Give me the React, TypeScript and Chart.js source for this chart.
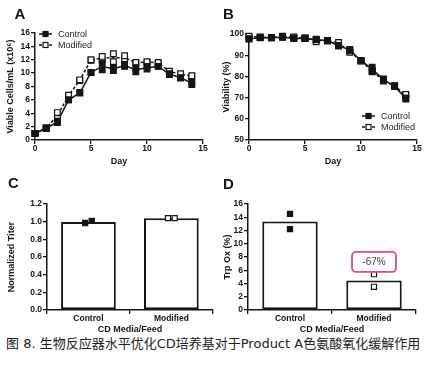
import React, { useEffect, useRef } from 'react';
import { Chart, registerables } from 'chart.js';
Chart.register(...registerables);

// ---------- data ----------
const DAYS = [0, 1, 2, 3, 4, 5, 6, 7, 8, 9, 10, 11, 12, 13, 14];
const SERIES = ['Control', 'Modified'];

// Panel A: viable cells (x10^6 /mL), two replicates each
const VCD_CONTROL_R1 = [1.0, 1.7, 2.6, 6.0, 7.0, 10.1, 11.5, 10.9, 11.3, 10.8, 11.0, 11.0, 9.8, 9.3, 8.7];
const VCD_CONTROL_R2 = [1.0, 1.8, 2.8, 6.0, 7.1, 10.1, 10.5, 10.4, 11.0, 10.2, 10.6, 11.0, 9.9, 9.3, 8.3];
const VCD_MODIFIED_R1 = [1.0, 1.8, 4.1, 6.7, 9.0, 12.0, 12.5, 12.9, 12.6, 11.6, 11.7, 11.6, 10.3, 9.9, 9.6];
const VCD_MODIFIED_R2 = [1.0, 1.7, 3.2, 6.6, 8.9, 11.9, 12.0, 11.7, 12.0, 11.5, 11.6, 11.5, 10.2, 9.8, 9.5];

// Panel B: viability (%)
const VIA_CONTROL_R1 = [97.8, 98.3, 98.3, 98.6, 98.0, 98.0, 97.4, 97.0, 94.3, 92.7, 87.3, 84.3, 78.8, 75.5, 69.3];
const VIA_CONTROL_R2 = [97.6, 98.2, 98.2, 98.4, 97.8, 98.0, 97.2, 96.8, 94.6, 92.3, 87.5, 82.5, 78.2, 75.3, 69.8];
const VIA_MODIFIED_R1 = [99.0, 98.6, 98.4, 99.0, 98.6, 98.1, 97.5, 97.0, 96.0, 92.0, 87.5, 82.6, 78.5, 75.6, 71.5];
const VIA_MODIFIED_R2 = [98.6, 98.4, 98.2, 98.7, 98.4, 97.9, 96.3, 96.8, 95.5, 91.3, 87.2, 82.2, 77.8, 75.3, 71.0];

// Panel C: normalized titer replicates
const TITER_CONTROL = [0.985, 1.01];
const TITER_MODIFIED = [1.04, 1.04];

// Panel D: Trp oxidation (%) replicates
const TRPOX_CONTROL = [14.5, 12.2];
const TRPOX_MODIFIED = [5.4, 3.5];
const TRPOX_CALLOUT = { text: '-67%', category: 1, y: 7.25 };

const CAPTION = '图 8. 生物反应器水平优化CD培养基对于Product A色氨酸氧化缓解作用';

// ---------- style ----------
const FONT = '"Liberation Sans", Arial, Helvetica, sans-serif';
const INK = '#151515';
const REPLICATE_JITTER = [-0.04, 0.04];

const mean = (a: number[], b: number[]) => a.map((v, i) => (v + b[i]) / 2);
const avg = (a: number[]) => a.reduce((s, v) => s + v, 0) / a.length;
const xy = (ys: number[]) => ys.map((y, i) => ({ x: DAYS[i], y }));

function makeLegend(corner: 'tl' | 'br', dx: number, dy: number) {
  return {
    id: 'insetLegend',
    afterDatasetsDraw(chart: any) {
      const { ctx, chartArea } = chart;
      const rowH = 11;
      const x0 = corner === 'tl' ? chartArea.left + dx : chartArea.right - dx;
      const y0 = corner === 'tl' ? chartArea.top + dy : chartArea.bottom - dy - rowH;
      ctx.save();
      SERIES.forEach((label, i) => {
        const y = y0 + i * rowH;
        ctx.strokeStyle = INK;
        ctx.lineWidth = 1.5;
        ctx.setLineDash(i === 1 ? [3, 2] : []);
        ctx.beginPath();
        ctx.moveTo(x0, y);
        ctx.lineTo(x0 + 13, y);
        ctx.stroke();
        ctx.setLineDash([]);
        const s = 5;
        ctx.fillStyle = i === 0 ? INK : '#fff';
        ctx.fillRect(x0 + 6.5 - s / 2, y - s / 2, s, s);
        ctx.lineWidth = 1.2;
        ctx.strokeRect(x0 + 6.5 - s / 2, y - s / 2, s, s);
        ctx.fillStyle = '#222';
        ctx.font = `9px ${FONT}`;
        ctx.textBaseline = 'middle';
        ctx.textAlign = 'left';
        ctx.fillText(label, x0 + 19, y + 0.5);
      });
      ctx.restore();
    },
  };
}

const calloutPlugin = {
  id: 'callout',
  afterDatasetsDraw(chart: any) {
    const { ctx, scales } = chart;
    const cx = scales.x.getPixelForValue(TRPOX_CALLOUT.category);
    const cy = scales.y.getPixelForValue(TRPOX_CALLOUT.y);
    const w = 44, h = 20, r = 4;
    ctx.save();
    ctx.strokeStyle = '#e2468b';
    ctx.lineWidth = 1.8;
    ctx.fillStyle = '#fff';
    ctx.beginPath();
    ctx.roundRect(cx - w / 2, cy - h / 2, w, h, r);
    ctx.fill();
    ctx.stroke();
    ctx.fillStyle = '#444';
    ctx.font = `10px ${FONT}`;
    ctx.textAlign = 'center';
    ctx.textBaseline = 'middle';
    ctx.fillText(TRPOX_CALLOUT.text, cx, cy + 0.5);
    ctx.restore();
  },
};

function axisCommon(extra: any) {
  return {
    grid: { drawOnChartArea: false, drawTicks: true, tickLength: 4, color: INK, lineWidth: 1.3 },
    border: { display: true, color: INK, width: 1.5 },
    ticks: { color: INK, font: { family: FONT, size: 8.5, weight: 'bold' }, padding: 1 },
    ...extra,
  };
}

function titleOpts(text: string, pad: any) {
  return { display: true, text, color: INK, font: { family: FONT, size: 9, weight: 'bold' }, padding: pad };
}

function lineConfig(
  r1c: number[], r2c: number[], r1m: number[], r2m: number[],
  yMin: number, yMax: number, yStep: number, yTitle: string,
  yWidth: number, pad: any, legend: any,
) {
  const pt = (data: number[], filled: boolean) => ({
    data: xy(data),
    showLine: false,
    pointStyle: 'rect',
    pointRadius: 4,
    pointBorderWidth: 1.2,
    pointBorderColor: INK,
    pointBackgroundColor: filled ? INK : '#fff',
    clip: false,
  });
  return {
    type: 'line',
    data: {
      datasets: [
        pt(r1c, true), pt(r2c, true), pt(r1m, false), pt(r2m, false),
        { label: SERIES[0], data: xy(mean(r1c, r2c)), borderColor: INK, borderWidth: 1.5, pointRadius: 0, tension: 0, clip: false },
        { label: SERIES[1], data: xy(mean(r1m, r2m)), borderColor: INK, borderWidth: 1.5, borderDash: [3, 2], pointRadius: 0, tension: 0, clip: false },
      ],
    },
    options: {
      animation: false,
      responsive: false,
      layout: { padding: pad },
      plugins: { legend: { display: false }, tooltip: { enabled: false } },
      scales: {
        x: axisCommon({
          type: 'linear', min: 0, max: 15,
          ticks: { color: INK, font: { family: FONT, size: 8.5, weight: 'bold' }, padding: 0, stepSize: 5 },
          title: titleOpts('Day', { top: 0, bottom: 3 }),
          afterFit: (s: any) => { s.height = 30; },
        }),
        y: axisCommon({
          type: 'linear', min: yMin, max: yMax,
          ticks: { color: INK, font: { family: FONT, size: 8.5, weight: 'bold' }, padding: 1, stepSize: yStep },
          title: titleOpts(yTitle, { top: 5, bottom: 0 }),
          afterFit: (s: any) => { s.width = yWidth; },
        }),
      },
    },
    plugins: [legend],
  };
}

function barConfig(
  ctrl: number[], mod: number[], jitter: number[],
  yMax: number, yStep: number, yTitle: string, yWidth: number, pad: any,
  decimals: number, plugins: any[],
) {
  const pts = (vals: number[], cat: number, filled: boolean) => ({
    type: 'scatter',
    data: vals.map((y, i) => ({ x: cat + jitter[i], y })),
    pointStyle: 'rect',
    pointRadius: 3.6,
    pointBorderWidth: 1.2,
    pointBorderColor: INK,
    pointBackgroundColor: filled ? INK : '#fff',
    clip: false,
  });
  return {
    type: 'bar',
    data: {
      datasets: [
        pts(ctrl, 0, true),
        pts(mod, 1, false),
        {
          type: 'bar',
          data: [{ x: 0, y: avg(ctrl) }, { x: 1, y: avg(mod) }],
          backgroundColor: '#fff',
          borderColor: INK,
          borderWidth: 2,
          borderSkipped: false,
          categoryPercentage: 1,
          barPercentage: 0.66,
        },
      ],
    },
    options: {
      animation: false,
      responsive: false,
      layout: { padding: pad },
      plugins: { legend: { display: false }, tooltip: { enabled: false } },
      scales: {
        x: axisCommon({
          type: 'linear', min: -0.5, max: 1.5, offset: false,
          afterBuildTicks: (s: any) => { s.ticks = SERIES.map((_, i) => ({ value: i })); },
          ticks: {
            color: INK, font: { family: FONT, size: 8.5, weight: 'bold' }, padding: 0,
            callback: (v: number) => SERIES[v] ?? '',
          },
          title: titleOpts('CD Media/Feed', { top: 0, bottom: 0.5 }),
          afterFit: (s: any) => { s.height = 25; },
        }),
        y: axisCommon({
          type: 'linear', min: 0, max: yMax,
          ticks: {
            color: INK, font: { family: FONT, size: 8.5, weight: 'bold' }, padding: 1, stepSize: yStep,
            callback: (v: number) => v.toFixed(decimals),
          },
          title: titleOpts(yTitle, { top: 6, bottom: 0 }),
          afterFit: (s: any) => { s.width = yWidth; },
        }),
      },
    },
    plugins,
  };
}

function ChartCanvas({ config, left, top, width, height }: any) {
  const ref = useRef<HTMLCanvasElement>(null);
  useEffect(() => {
    const chart = new Chart(ref.current as HTMLCanvasElement, config());
    return () => chart.destroy();
  }, []);
  return (
    <canvas
      ref={ref}
      width={width}
      height={height}
      style={{ position: 'absolute', left, top, width, height }}
    />
  );
}

const letterStyle = (left: number, top: number): React.CSSProperties => ({
  position: 'absolute', left, top, font: `bold 15px ${FONT}`, lineHeight: '15px', color: INK,
});

export default function App() {
  return (
    <div style={{ position: 'absolute', left: 0, top: 0, width: 436, height: 367, background: '#fff', overflow: 'hidden' }}>
      <ChartCanvas
        left={0} top={20} width={216} height={150}
        config={() => lineConfig(VCD_CONTROL_R1, VCD_CONTROL_R2, VCD_MODIFIED_R1, VCD_MODIFIED_R2,
          0, 16, 2, 'Viable Cells/mL (x10⁶)', 35, { left: 0, right: 13, top: 13, bottom: 0 }, makeLegend('tl', 4, 1))}
      />
      <ChartCanvas
        left={216} top={20} width={220} height={150}
        config={() => lineConfig(VIA_CONTROL_R1, VIA_CONTROL_R2, VIA_MODIFIED_R1, VIA_MODIFIED_R2,
          50, 100, 10, 'Viability (%)', 33, { left: 0, right: 19, top: 14, bottom: 0 }, makeLegend('br', 55, 13))}
      />
      <ChartCanvas
        left={0} top={185} width={218} height={150}
        config={() => barConfig(TITER_CONTROL, TITER_MODIFIED, REPLICATE_JITTER, 1.2, 0.2, 'Normalized Titer', 47,
          { left: 0, right: 0, top: 19, bottom: 0 }, 1, [])}
      />
      <ChartCanvas
        left={216} top={185} width={220} height={150}
        config={() => barConfig(TRPOX_CONTROL, TRPOX_MODIFIED, [0, 0], 16, 2, 'Trp Ox (%)', 32,
          { left: 0, right: 20, top: 19, bottom: 0 }, 0, [calloutPlugin])}
      />
      <div style={letterStyle(14.5, 6)}>A</div>
      <div style={letterStyle(223, 6)}>B</div>
      <div style={letterStyle(8, 175)}>C</div>
      <div style={letterStyle(223, 176)}>D</div>
      <div
        style={{
          position: 'absolute', left: 6, top: 335, whiteSpace: 'nowrap', color: '#222',
          font: `13px "DejaVu Sans", "Noto Sans CJK SC", sans-serif`, lineHeight: '18px',
        }}
      >
        {CAPTION}
      </div>
    </div>
  );
}
